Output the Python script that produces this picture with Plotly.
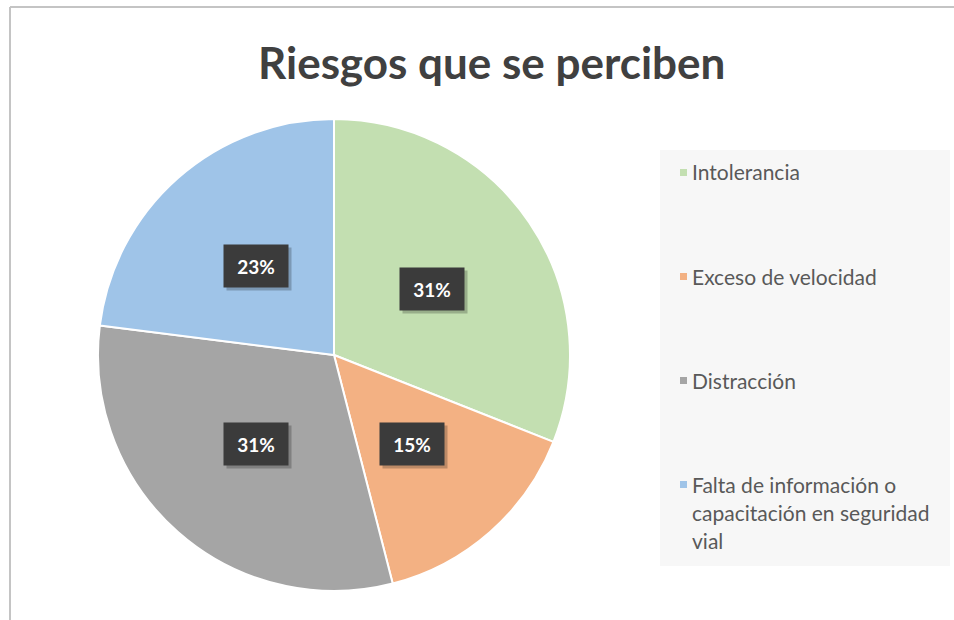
import math
import plotly.graph_objects as go

# ---- data ----
title_text = "Riesgos que se perciben"
labels = ["Intolerancia", "Exceso de velocidad", "Distracción",
          "Falta de información o capacitación en seguridad vial"]
legend_lines = [["Intolerancia"], ["Exceso de velocidad"], ["Distracción"],
                ["Falta de información o", "capacitación en seguridad", "vial"]]
values = [31, 15, 31, 23]
colors = ["#c3dfb1", "#f3b183", "#a5a5a5", "#9fc4e8"]

W, H = 954, 620
def px(x):
    return x / W
def py(y):
    return 1 - y / H

# pie geometry (pixels)
cx, cy, r = 334, 355, 236

fig = go.Figure()
fig.add_trace(go.Pie(
    labels=labels, values=values, sort=False, direction="clockwise",
    rotation=0, textinfo="none", hoverinfo="label+percent",
    marker=dict(colors=colors, line=dict(color="white", width=2)),
    domain=dict(x=[px(cx - r), px(cx + r)], y=[py(cy + r), py(cy - r)]),
    showlegend=False,
))

annotations = []
shapes = []

# frame lines
shapes.append(dict(type="line", xref="paper", yref="paper",
                   x0=px(10), x1=1, y0=py(7), y1=py(7),
                   line=dict(color="#c4c4c4", width=2)))
shapes.append(dict(type="line", xref="paper", yref="paper",
                   x0=px(10), x1=px(10), y0=py(7), y1=0,
                   line=dict(color="#c4c4c4", width=2)))

# legend background
shapes.append(dict(type="rect", xref="paper", yref="paper",
                   x0=px(660), x1=px(950), y0=py(566), y1=py(150),
                   fillcolor="#f7f7f7", line=dict(width=0), layer="below"))

# data labels
total = sum(values)
cum = 0
for v in values:
    mid = (cum + v / 2) / total * 2 * math.pi
    cum += v
    lx = cx + 0.5 * r * math.sin(mid)
    ly = cy - 0.5 * r * math.cos(mid)
    txt = f"{round(v / total * 100)}%"
    # shadow
    annotations.append(dict(x=px(lx), y=py(ly), xref="paper", yref="paper",
                            xanchor="center", yanchor="middle",
                            text="", showarrow=False, width=62, height=40,
                            bgcolor="rgba(0,0,0,0.22)", xshift=3, yshift=-3))
    annotations.append(dict(x=px(lx), y=py(ly), xref="paper", yref="paper",
                            xanchor="center", yanchor="middle",
                            text=f"<b>{txt}</b>", showarrow=False,
                            width=62, height=40, align="center", valign="middle",
                            bgcolor="#3b3b3b",
                            font=dict(family="Lato", size=19, color="white")))

# custom legend
item_y = [172, 276, 380, 484]
line_gap = 28
for i, lines in enumerate(legend_lines):
    y0 = item_y[i]
    shapes.append(dict(type="rect", xref="paper", yref="paper",
                       x0=px(680), x1=px(687), y0=py(y0 + 4), y1=py(y0 - 3),
                       fillcolor=colors[i], line=dict(width=0)))
    for j, ln in enumerate(lines):
        annotations.append(dict(x=px(690), y=py(y0 + j * line_gap),
                                xref="paper", yref="paper", text=ln,
                                showarrow=False, xanchor="left", yanchor="middle",
                                font=dict(family="Lato", size=21, color="#595959")))

# title
annotations.append(dict(x=px(491), y=py(62), xref="paper", yref="paper",
                        text=f"<b>{title_text}</b>", showarrow=False,
                        xanchor="center", yanchor="middle",
                        font=dict(family="Lato", size=44, color="#404040")))

fig.update_layout(
    width=W, height=H, margin=dict(l=0, r=0, t=0, b=0),
    paper_bgcolor="white", plot_bgcolor="white",
    annotations=annotations, shapes=shapes, showlegend=False,
)

fig.write_html("out.html")
